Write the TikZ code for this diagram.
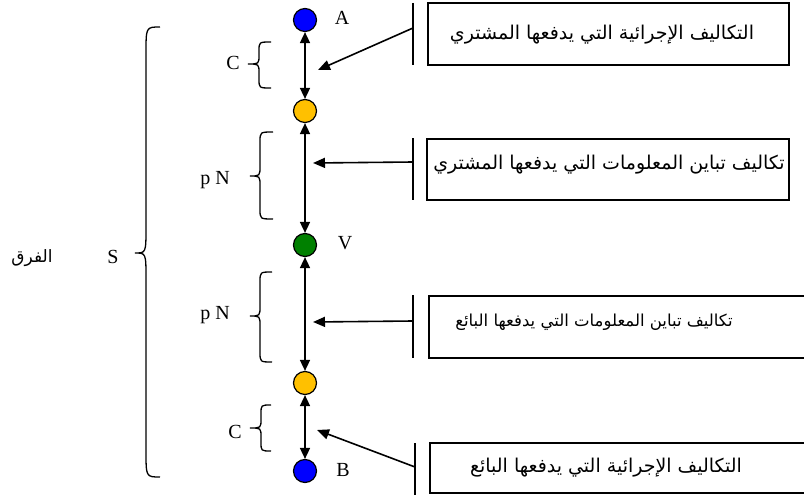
\documentclass[tikz,border=0pt]{standalone}
\usepackage{fontspec}
\setmainfont{Liberation Serif}
\newfontfamily\arabicfont[Script=Arabic]{DejaVu Sans}
\TeXXeTstate=1
\usetikzlibrary{arrows.meta}

% curly brace opening to the right: #1 x of the ends, #2 x of the spine,
% #3 x of the tip, #4 top y, #5 tip y, #6 bottom y, #7 size of the curls
\newcommand\curlybrace[7]{%
  \draw[bracestyle] (#1,#4) .. controls (#2,#4) .. (#2,#4+#7)
    -- (#2,#5-#7) .. controls (#2,#5) .. (#3,#5)
    .. controls (#2,#5) .. (#2,#5+#7)
    -- (#2,#6-#7) .. controls (#2,#6) .. (#1,#6);}

\begin{document}
\begin{tikzpicture}[x=1pt,y=-1pt,
  dot/.style={circle,draw,line width=1.2pt,minimum size=23pt,inner sep=0pt},
  link/.style={{Triangle[length=11pt,width=10pt]}-{Triangle[length=11pt,width=10pt]},line width=1.6pt},
  pointer/.style={-{Triangle[length=12pt,width=10pt]},line width=1.6pt},
  costbox/.style={draw,line width=1.5pt,inner sep=0pt},
  bar/.style={line width=1.5pt},
  bracestyle/.style={line width=1.3pt},
  latin/.style={font=\fontsize{20}{24}\selectfont,inner sep=0pt},
  arab/.style={font=\arabicfont\fontsize{19}{22}\selectfont,inner sep=0pt},
  arabsmall/.style={font=\arabicfont\fontsize{16.5}{20}\selectfont,inner sep=0pt},
  arabside/.style={font=\arabicfont\fontsize{17}{20}\selectfont,inner sep=0pt}]
\useasboundingbox (0,0) rectangle (804,495);

\definecolor{dotblue}{RGB}{0,0,255}
\definecolor{dotyellow}{RGB}{255,192,0}
\definecolor{dotgreen}{RGB}{0,128,0}

% price points on the scale
\node[dot,fill=dotblue]   (a)  at (305,20)  {};
\node[dot,fill=dotyellow] (y1) at (305,111) {};
\node[dot,fill=dotgreen]  (v)  at (305,245) {};
\node[dot,fill=dotyellow] (y2) at (305,383) {};
\node[dot,fill=dotblue]   (b)  at (305,471) {};

\node[latin] (la) at (342,18)  {A};
\node[latin] (lv) at (345,243) {V};
\node[latin] (lb) at (343,470) {B};

\draw[link] (a)  -- (y1);
\draw[link] (y1) -- (v);
\draw[link] (v)  -- (y2);
\draw[link] (y2) -- (b);

% braces and their labels
\curlybrace{160}{146}{135}{27}{253}{477}{26}
\curlybrace{271}{259}{248}{42}{64}{88}{9}
\curlybrace{273}{260}{250}{132}{176}{219}{10}
\curlybrace{272}{260}{250}{272}{316}{362}{10}
\curlybrace{271}{261}{250}{405}{428}{451}{9}

\node[latin]    (ls)  at (113,257) {S};
\node[arabside] (lf)  at (32,258)  {\beginR الفرق\endR};
\node[latin]    (lc1) at (233,63)  {C};
\node[latin]    (lp1) at (215,180) {p N};
\node[latin]    (lp2) at (215,315) {p N};
\node[latin]    (lc2) at (235,432) {C};

% cost boxes
\node[costbox,minimum width=361pt,minimum height=62pt] (box1) at (608.5,34) {};
\node[costbox,minimum width=362pt,minimum height=61pt] (box2) at (608,169.5) {};
\node[costbox,minimum width=377pt,minimum height=62pt] (box3) at (617.5,327) {};
\node[costbox,minimum width=376pt,minimum height=50pt] (box4) at (618,468) {};

\node[arab]      (t1) at (602,35)  {\beginR التكاليف الإجرائية التي يدفعها المشتري\endR};
\node[arab]      (t2) at (609,165) {\beginR تكاليف تباين المعلومات التي يدفعها المشتري\endR};
\node[arabsmall] (t3) at (594,322) {\beginR تكاليف تباين المعلومات التي يدفعها البائع\endR};
\node[arab]      (t4) at (606,468) {\beginR التكاليف الإجرائية التي يدفعها البائع\endR};

% bars with the pointers
\draw[bar] (413,3)   -- (413,65);
\draw[bar] (413,138) -- (413,200);
\draw[bar] (413,295) -- (413,358);
\draw[bar] (415,443) -- (415,495);

\coordinate (p1s) at (413,28);  \coordinate (p1e) at (318,70);
\coordinate (p2s) at (413,162); \coordinate (p2e) at (313,163);
\coordinate (p3s) at (413,321); \coordinate (p3e) at (313,322);
\coordinate (p4s) at (415,467); \coordinate (p4e) at (317,430);

\draw[pointer] (p1s) -- (p1e);
\draw[pointer] (p2s) -- (p2e);
\draw[pointer] (p3s) -- (p3e);
\draw[pointer] (p4s) -- (p4e);
\end{tikzpicture}
\end{document}
